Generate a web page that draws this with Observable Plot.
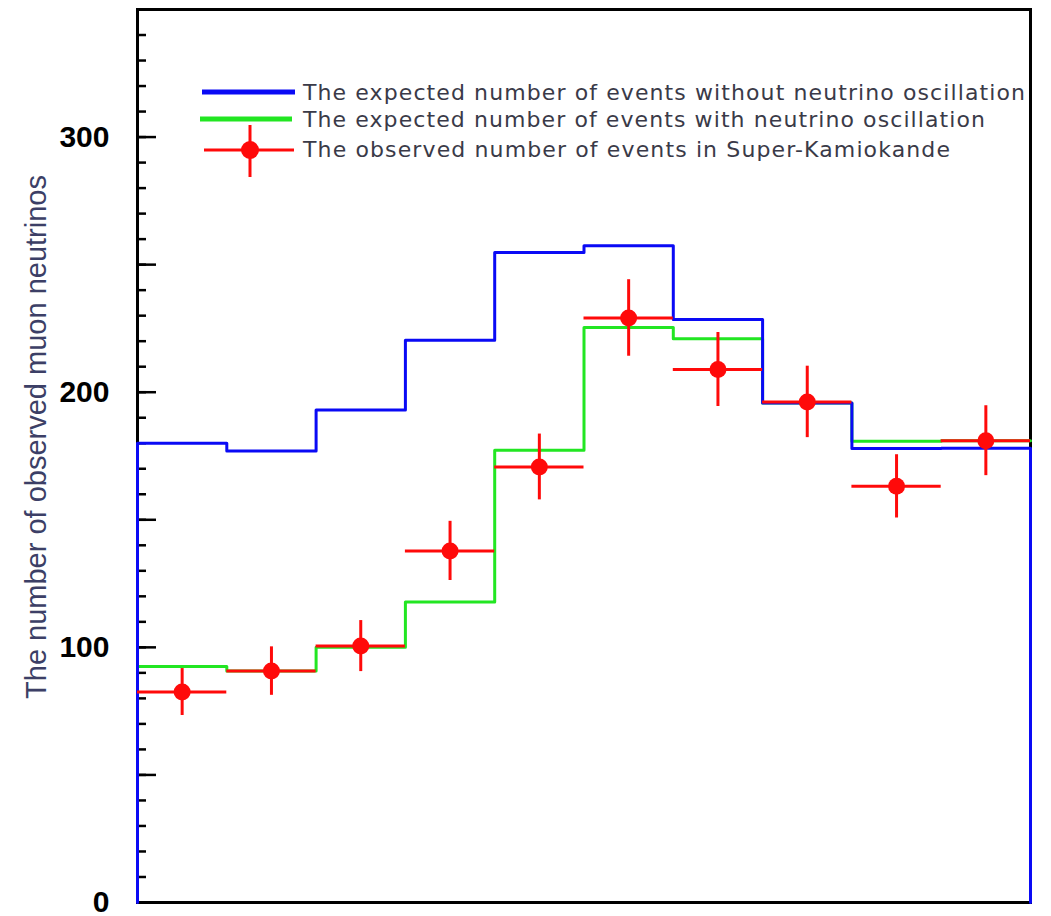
<!DOCTYPE html>
<html><head><meta charset="utf-8">
<script src="https://cdn.jsdelivr.net/npm/d3@7"></script>
<script src="https://cdn.jsdelivr.net/npm/@observablehq/plot@0.6"></script>
<style>body{margin:0;background:#fff} #chart{position:relative;width:1051px;height:916px}</style>
</head><body><div id="chart"></div>
<script>
// Bins (10 equal bins along the x direction, no x labels in the original)
const binEdges = [0,1,2,3,4,5,6,7,8,9,10];
const expectedNoOsc = [180, 177, 193, 220.4, 254.8, 257.4, 228.5, 195.8, 177.9, 178];
const expectedOsc   = [92.5, 90.7, 100, 117.8, 177.3, 225.4, 221, 195.8, 180.8, 181];
const observed      = [82.5, 90.7, 100.5, 137.8, 170.7, 229.1, 208.9, 196.2, 163.1, 181];
const observedErr   = [9.2, 9.5, 10, 11.6, 12.9, 15, 14.5, 14, 12.4, 13.7];
const yTickLabels   = [0, 100, 200, 300];
const yLabel = "The number of observed muon neutrinos";
const legendLabels = [
  "The expected number of events without neutrino oscillation",
  "The expected number of events with neutrino oscillation",
  "The observed number of events in Super-Kamiokande"
];
const legendWidths = [722, 682, 647];
const colors = {blue:"#0a0af5", green:"#22e622", red:"#ff0a0a"};

function steps(vals){ return vals.flatMap((v,i)=>[{x:binEdges[i],y:v},{x:binEdges[i+1],y:v}]); }
const blueSteps = [{x:binEdges[0],y:0}, ...steps(expectedNoOsc), {x:binEdges[10],y:0}];
const greenSteps = steps(expectedOsc);
const obs = observed.map((v,i)=>({lo:binEdges[i], hi:binEdges[i+1], mid:(binEdges[i]+binEdges[i+1])/2, y:v, e:observedErr[i]}));

const plot = Plot.plot({
  width:1051, height:916, marginLeft:137, marginRight:21, marginTop:9, marginBottom:14,
  x:{domain:[0,10], axis:null},
  y:{domain:[0,350], axis:null},
  style:{background:"white", fontFamily:"'Liberation Sans', Arial, sans-serif"},
  marks:[
    Plot.axisY({anchor:"left", ticks:d3.range(0,351,10), tickSize:9, dx:9, strokeWidth:2.5, stroke:"black", fill:"none"}),
    Plot.axisY({anchor:"left", ticks:d3.range(0,351,50), tickSize:19, dx:19, strokeWidth:2.5, stroke:"black", fill:"none"}),
    Plot.axisY({anchor:"left", ticks:yTickLabels, tickSize:0, tickPadding:28, fontSize:30, fontWeight:"bold", fill:"black", label:null}),
    Plot.frame({stroke:"black", strokeWidth:3}),
    Plot.line(greenSteps, {x:"x", y:"y", stroke:colors.green, strokeWidth:3}),
    Plot.line(blueSteps, {x:"x", y:"y", stroke:colors.blue, strokeWidth:3}),
    Plot.ruleY(obs, {y:"y", x1:"lo", x2:"hi", stroke:colors.red, strokeWidth:3}),
    Plot.ruleX(obs, {x:"mid", y1:d=>d.y-d.e, y2:d=>d.y+d.e, stroke:colors.red, strokeWidth:3}),
    Plot.dot(obs, {x:"mid", y:"y", r:8.5, fill:colors.red}),
    Plot.text([yLabel], {text:d=>d, frameAnchor:"left", textAnchor:"middle", lineAnchor:"middle", rotate:-90, dx:-101, dy:-19, fontSize:29, fill:"#3c3f66"})
  ]
});
document.getElementById("chart").appendChild(plot);

// Legend (inside the plot area, upper part)
const svg = d3.select(plot);
const lg = svg.append("g").attr("font-family","'DejaVu Sans', Verdana, sans-serif").attr("font-size",22).attr("fill","#3a3a48").attr("text-anchor","start");
const rowY = [92, 119, 149];
lg.append("line").attr("x1",202).attr("x2",295).attr("y1",rowY[0]).attr("y2",rowY[0]).attr("stroke",colors.blue).attr("stroke-width",5);
lg.append("line").attr("x1",200).attr("x2",292).attr("y1",rowY[1]).attr("y2",rowY[1]).attr("stroke",colors.green).attr("stroke-width",5);
lg.append("line").attr("x1",204).attr("x2",294).attr("y1",rowY[2]+1).attr("y2",rowY[2]+1).attr("stroke",colors.red).attr("stroke-width",3);
lg.append("line").attr("x1",250).attr("x2",250).attr("y1",125).attr("y2",177).attr("stroke",colors.red).attr("stroke-width",3);
lg.append("circle").attr("cx",250).attr("cy",rowY[2]+1).attr("r",9).attr("fill",colors.red);
legendLabels.forEach((t,i)=>{
  lg.append("text").attr("x",303).attr("y",rowY[i]).attr("dy","0.36em")
    .attr("textLength",legendWidths[i]).attr("lengthAdjust","spacing").text(t);
});
</script>
</body></html>
